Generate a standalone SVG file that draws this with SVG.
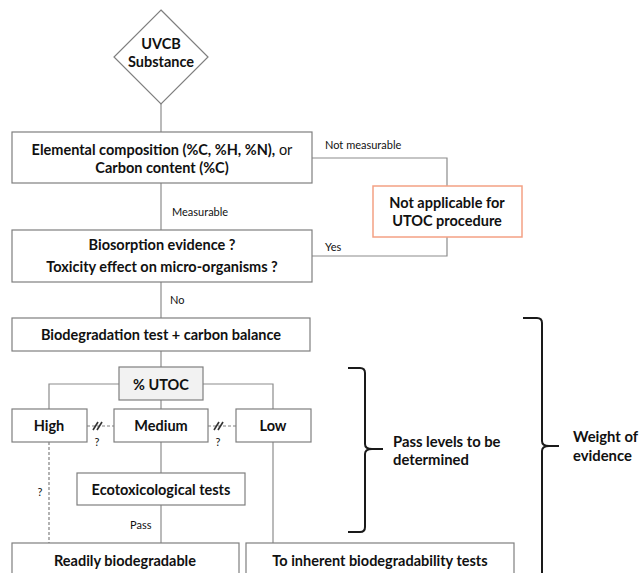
<svg xmlns="http://www.w3.org/2000/svg" width="640" height="573" viewBox="0 0 640 573">
<style>
.box{fill:#fff;stroke:#7f7f7f;stroke-width:1.2}
.grey{fill:#f2f2f2;stroke:#7f7f7f;stroke-width:1.2}
.orange{fill:#fff;stroke:#f4a184;stroke-width:1.5}
.ln{fill:none;stroke:#8c8c8c;stroke-width:1.2}
.dash{fill:none;stroke:#808080;stroke-width:1.2;stroke-dasharray:3 2}
.brace{fill:none;stroke:#1a1a1a;stroke-width:2}
.brk{stroke:#333;stroke-width:1.6}
text{font-family:Lato,"Liberation Sans",sans-serif;fill:#111}
.t{font-weight:bold;font-size:14.5px;text-anchor:middle}
.s{font-size:11px}
.sc{font-size:11px;text-anchor:middle}
.side{font-weight:bold;font-size:14.8px}
</style>
<g id="connectors">
<line class="ln" x1="161" y1="104" x2="161" y2="132"/>
<line class="ln" x1="161" y1="183" x2="161" y2="230"/>
<polyline class="ln" points="312,158 447,158 447,186"/>
<polyline class="ln" points="312,256 447,256 447,237"/>
<line class="ln" x1="161" y1="282" x2="161" y2="318"/>
<line class="ln" x1="161" y1="351" x2="161" y2="367"/>
<polyline class="ln" points="119,384 49,384 49,409"/>
<polyline class="ln" points="203,384 273,384 273,409"/>
<line class="ln" x1="161" y1="400" x2="161" y2="409"/>
<line class="dash" x1="87" y1="426" x2="114" y2="426"/>
<line class="dash" x1="208" y1="426" x2="236" y2="426"/>
<line class="brk" x1="93" y1="430" x2="98" y2="422"/>
<line class="brk" x1="97" y1="430" x2="102" y2="422"/>
<line class="brk" x1="214" y1="430" x2="219" y2="422"/>
<line class="brk" x1="218" y1="430" x2="223" y2="422"/>
<line class="dash" x1="49" y1="442" x2="49" y2="543"/>
<line class="ln" x1="161" y1="442" x2="161" y2="473"/>
<line class="ln" x1="161" y1="505" x2="161" y2="543"/>
<line class="ln" x1="273" y1="442" x2="273" y2="543"/>
<text class="s" x="325" y="149">Not measurable</text>
<text class="s" x="172" y="216">Measurable</text>
<text class="s" x="325" y="251">Yes</text>
<text class="s" x="170" y="304">No</text>
<text class="sc" x="97" y="446">?</text>
<text class="sc" x="218" y="446">?</text>
<text class="sc" x="40" y="496">?</text>
<text class="s" x="130" y="529">Pass</text>
</g>
<g id="uvcb">
<polygon class="box" points="161,10 208,57 161,104 114,57"/>
<text class="t" x="161" y="49">UVCB</text>
<text class="t" x="161" y="67">Substance</text>
</g>
<g id="elemental">
<rect class="box" x="12" y="132" width="300" height="51"/>
<text class="t" x="162" y="155">Elemental composition (%C, %H, %N),<tspan font-weight="normal"> or</tspan></text>
<text class="t" x="162" y="173">Carbon content (%C)</text>
</g>
<g id="notapplicable">
<rect class="orange" x="373" y="186" width="149" height="51"/>
<text class="t" x="447" y="208">Not applicable for</text>
<text class="t" x="447" y="226">UTOC procedure</text>
</g>
<g id="biosorption">
<rect class="box" x="12" y="230" width="300" height="52"/>
<text class="t" x="162" y="250">Biosorption evidence ?</text>
<text class="t" x="162" y="272">Toxicity effect on micro-organisms ?</text>
</g>
<g id="biodeg">
<rect class="box" x="12" y="318" width="298" height="33"/>
<text class="t" x="161" y="340">Biodegradation test + carbon balance</text>
</g>
<g id="utoc">
<rect class="grey" x="119" y="367" width="84" height="33"/>
<text class="t" x="161" y="390">% UTOC</text>
</g>
<g id="high">
<rect class="box" x="12" y="409" width="75" height="33"/>
<text class="t" x="49" y="431">High</text>
</g>
<g id="medium">
<rect class="box" x="114" y="409" width="94" height="33"/>
<text class="t" x="161" y="431">Medium</text>
</g>
<g id="low">
<rect class="box" x="236" y="409" width="75" height="33"/>
<text class="t" x="273" y="431">Low</text>
</g>
<g id="ecotox">
<rect class="box" x="77" y="473" width="168" height="32"/>
<text class="t" x="161" y="495">Ecotoxicological tests</text>
</g>
<g id="readily">
<rect class="box" x="12" y="543" width="227" height="40"/>
<text class="t" x="125" y="566">Readily biodegradable</text>
</g>
<g id="inherent">
<rect class="box" x="246" y="543" width="268" height="40"/>
<text class="t" x="380" y="566">To inherent biodegradability tests</text>
</g>
<g id="passlevels">
<path class="brace" d="M348,368 L360,368 Q365,368 365,373 L365,444 Q365,449 372,449 L383,449 M372,449 Q365,449 365,454 L365,527 Q365,532 360,532 L348,532"/>
<text class="side" x="393" y="447">Pass levels to be</text>
<text class="side" x="393" y="465">determined</text>
</g>
<g id="weight">
<path class="brace" d="M523,318 L537,318 Q542,318 542,323 L542,441 Q542,446 549,446 L559,446 M549,446 Q542,446 542,451 L542,580"/>
<text class="side" x="573" y="442">Weight of</text>
<text class="side" x="573" y="461">evidence</text>
</g>
</svg>
